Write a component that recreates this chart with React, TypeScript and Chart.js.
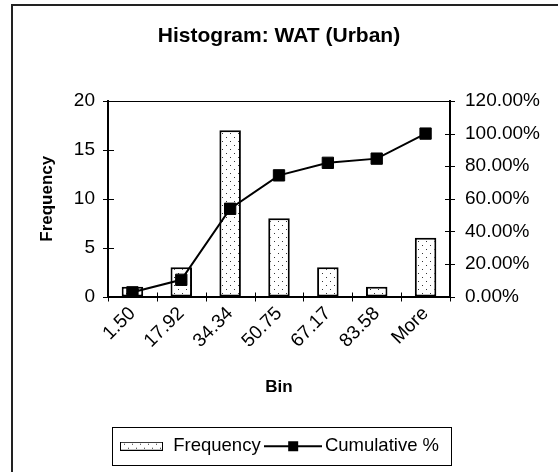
import React, { useEffect, useRef } from 'react';
import { Chart, registerables } from 'chart.js';

Chart.register(...registerables);

const categories = ['1.50', '17.92', '34.34', '50.75', '67.17', '83.58', 'More'];
const frequency = [1, 3, 17, 8, 3, 1, 6];
const cumulativePct = [2.56, 10.26, 53.85, 74.36, 82.05, 84.62, 100.0];

const FONT = "'Liberation Sans', Arial, sans-serif";

function makeDotPattern(ctx: CanvasRenderingContext2D) {
  const c = document.createElement('canvas');
  c.width = 8;
  c.height = 8;
  const g = c.getContext('2d')!;
  g.fillStyle = '#fff';
  g.fillRect(0, 0, 8, 8);
  g.fillStyle = '#333';
  g.fillRect(2, 1, 1, 1);
  g.fillRect(6, 5, 1, 1);
  return ctx.createPattern(c, 'repeat')!;
}

function makeSwatch() {
  const c = document.createElement('canvas');
  c.width = 43;
  c.height = 9;
  const g = c.getContext('2d')!;
  g.fillStyle = '#fff';
  g.fillRect(0, 0, 43, 9);
  g.fillStyle = '#333';
  for (let x = 4; x < 42; x += 8) {
    g.fillRect(x, 2, 1, 1);
    g.fillRect(x + 4, 6, 1, 1);
  }
  g.strokeStyle = '#000';
  g.lineWidth = 1;
  g.strokeRect(0.5, 0.5, 42, 8);
  return c;
}

function makeLineSwatch() {
  const c = document.createElement('canvas');
  c.width = 58;
  c.height = 12;
  const g = c.getContext('2d')!;
  g.fillStyle = '#000';
  g.fillRect(0, 5, 58, 2);
  g.fillRect(24, 1, 10, 10);
  return c;
}

const framePlugin = {
  id: 'excelFrame',
  afterDraw(chart: any) {
    const { ctx, chartArea, scales } = chart;
    ctx.save();
    ctx.strokeStyle = '#000';
    ctx.lineWidth = 1;
    // plot area top border
    ctx.beginPath();
    ctx.moveTo(chartArea.left, Math.round(chartArea.top) + 0.5);
    ctx.lineTo(chartArea.right, Math.round(chartArea.top) + 0.5);
    ctx.stroke();
    // cross ticks on left axis
    const y = scales.y;
    y.ticks.forEach((_t: any, i: number) => {
      const py = Math.round(y.getPixelForTick(i)) + 0.5;
      ctx.beginPath();
      ctx.moveTo(chartArea.left - 5, py);
      ctx.lineTo(chartArea.left + 6, py);
      ctx.stroke();
    });
    const y2 = scales.y2;
    y2.ticks.forEach((_t: any, i: number) => {
      const py = Math.round(y2.getPixelForTick(i)) + 0.5;
      ctx.beginPath();
      ctx.moveTo(chartArea.right - 5, py);
      ctx.lineTo(chartArea.right + 5, py);
      ctx.stroke();
    });
    const x = scales.x;
    for (let i = 0; i <= categories.length; i++) {
      const px = Math.round(x.getPixelForValue(i - 0.5)) + 0.5;
      ctx.beginPath();
      ctx.moveTo(px, chartArea.bottom - 4);
      ctx.lineTo(px, chartArea.bottom + 5);
      ctx.stroke();
    }
    // legend frame
    const lg = chart.legend;
    const hb = lg.legendHitBoxes;
    if (hb && hb.length) {
      const last = hb[hb.length - 1];
      const l = Math.round(hb[0].left - 7) + 0.5;
      const r = Math.round(last.left + last.width + 12) + 0.5;
      const t = Math.round(lg.top) + 0.5;
      const b = Math.round(lg.bottom) - 0.5;
      ctx.strokeRect(l, t, r - l, b - t);
    }
    ctx.restore();
  },
};

export default function App() {
  const ref = useRef<HTMLCanvasElement>(null);

  useEffect(() => {
    const canvas = ref.current!;
    const ctx = canvas.getContext('2d')!;
    const pattern = makeDotPattern(ctx);
    const swatch = makeSwatch();
    const lineSwatch = makeLineSwatch();

    const chart = new Chart(ctx, {
      type: 'bar',
      data: {
        labels: categories,
        datasets: [
          {
            type: 'bar',
            label: 'Frequency',
            data: frequency,
            backgroundColor: pattern as any,
            borderColor: '#000',
            borderWidth: 2,
            borderSkipped: false,
            barPercentage: 0.44,
            categoryPercentage: 1,
            yAxisID: 'y',
            order: 2,
          },
          {
            type: 'line',
            label: 'Cumulative %',
            data: cumulativePct,
            borderColor: '#000',
            backgroundColor: '#000',
            borderWidth: 2,
            pointStyle: 'rect',
            pointRadius: 8,
            pointBorderWidth: 1,
            pointBackgroundColor: '#000',
            pointBorderColor: '#000',
            tension: 0,
            fill: false,
            yAxisID: 'y2',
            order: 1,
          } as any,
        ],
      },
      options: {
        animation: false,
        responsive: false,
        layout: { padding: { left: 0, right: 0, top: 0, bottom: 6.5 } },
        plugins: {
          title: {
            display: true,
            text: 'Histogram: WAT (Urban)',
            color: '#000',
            font: { family: FONT, size: 21, weight: 'bold' },
            padding: { top: 23.4, bottom: 52.4 },
          },
          legend: {
            position: 'bottom',
            labels: {
              usePointStyle: true,
              pointStyleWidth: 45,
              padding: 10,
              color: '#000',
              font: { family: FONT, size: 18.5 },
              sort: (a: any, b: any) => a.datasetIndex - b.datasetIndex,
              generateLabels: (ch: any) => {
                const items = (Chart.defaults.plugins.legend.labels as any).generateLabels(ch);
                items.forEach((it: any) => {
                  it.pointStyle = it.datasetIndex === 0 ? swatch : lineSwatch;
                  it.fontColor = '#000';
                });
                return items;
              },
            },
          },
          tooltip: { enabled: false },
        },
        scales: {
          x: {
            grid: { display: false, drawTicks: false },
            border: { display: true, color: '#000', width: 2 },
            ticks: {
              color: '#000',
              font: { family: FONT, size: 19 },
              minRotation: 45,
              maxRotation: 45,
              autoSkip: false,
              padding: 6,
            },
            title: {
              display: true,
              text: 'Bin',
              color: '#000',
              font: { family: FONT, size: 17, weight: 'bold' },
              padding: { top: 0, bottom: 29.3 },
            },
            afterFit: (s: any) => {
              s.height = 130.5;
            },
          },
          y: {
            position: 'left',
            min: 0,
            max: 20,
            ticks: { stepSize: 5, color: '#000', font: { family: FONT, size: 19 }, padding: 13 },
            grid: { display: false, drawTicks: false },
            border: { display: true, color: '#000', width: 2 },
            title: {
              display: true,
              text: 'Frequency',
              color: '#000',
              font: { family: FONT, size: 17, weight: 'bold' },
              padding: { top: 37.3, bottom: 0 },
            },
            afterFit: (s: any) => {
              s.width = 108;
            },
          },
          y2: {
            position: 'right',
            min: 0,
            max: 120,
            ticks: {
              stepSize: 20,
              color: '#000',
              font: { family: FONT, size: 19 },
              padding: 15,
              callback: (v: any) => Number(v).toFixed(2) + '%',
            },
            grid: { display: false, drawTicks: false },
            border: { display: true, color: '#000', width: 2 },
            afterFit: (s: any) => {
              s.width = 108;
            },
          },
        },
      } as any,
      plugins: [framePlugin],
    });

    return () => chart.destroy();
  }, []);

  return (
    <div
      style={{
        position: 'fixed',
        left: 0,
        top: 0,
        width: 558,
        height: 472,
        overflow: 'hidden',
        background: '#fff',
      }}
    >
      <canvas ref={ref} width={558} height={472} style={{ position: 'absolute', left: 0, top: 0 }} />
      <div
        style={{
          position: 'absolute',
          left: 11,
          top: 4,
          width: 600,
          height: 600,
          border: '2px solid #222',
          pointerEvents: 'none',
        }}
      />
    </div>
  );
}
